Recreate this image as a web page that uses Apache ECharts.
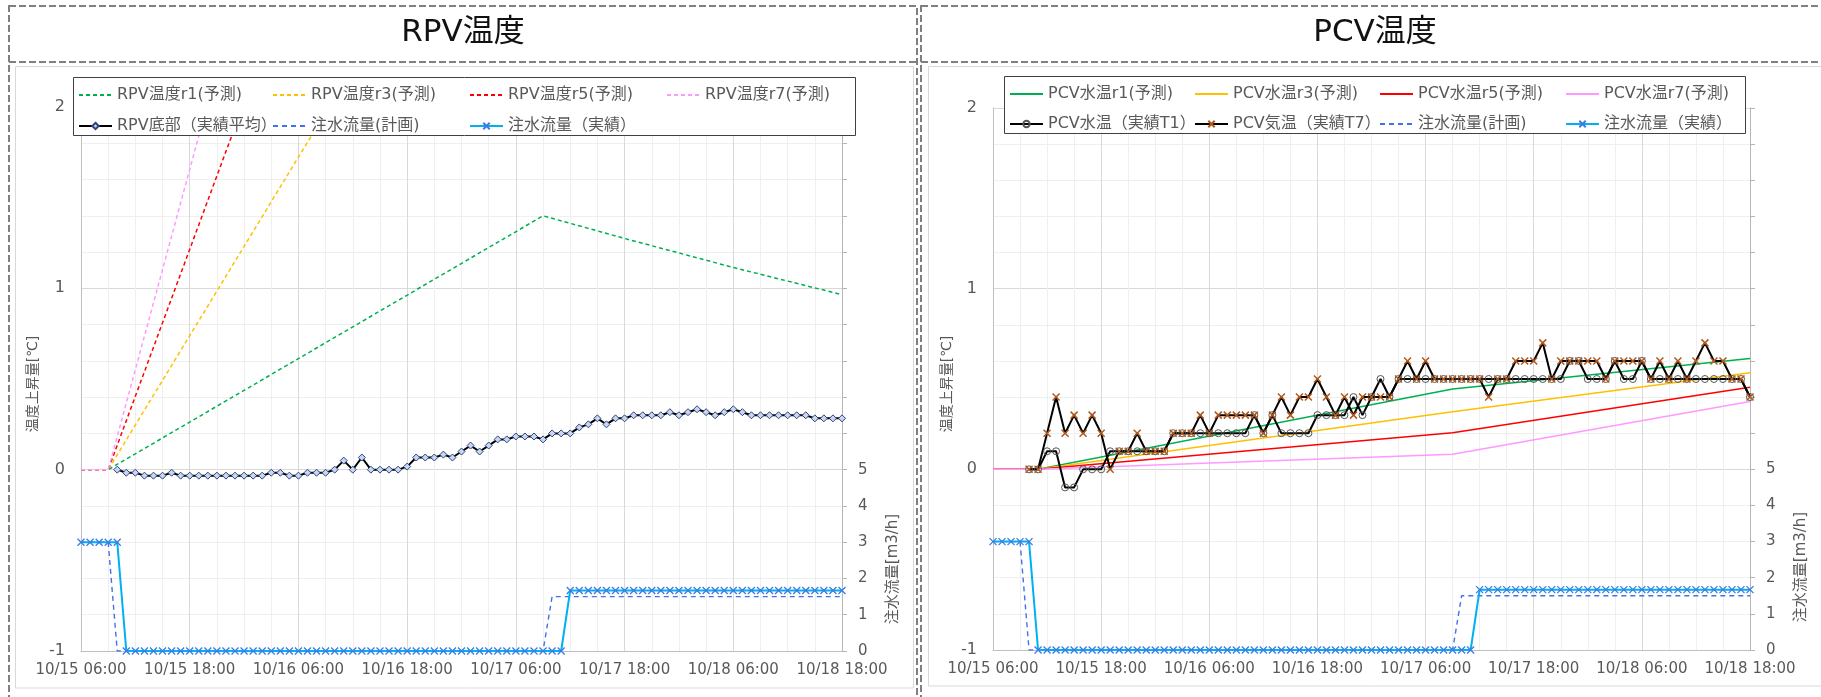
<!DOCTYPE html>
<html><head><meta charset="utf-8">
<script src="https://cdn.jsdelivr.net/npm/echarts@6/dist/echarts.min.js"></script>
<style>html,body{margin:0;padding:0;background:#fff;}#c{width:1821px;height:697px;}</style>
</head><body><div id="c"></div>
<script>
const FONT = '"DejaVu Sans","Noto Sans CJK JP",sans-serif';

// ---- axis tick labels ----
const xTickLabels = ['10/15 06:00','10/15 18:00','10/16 06:00','10/16 18:00','10/17 06:00','10/17 18:00','10/18 06:00','10/18 18:00'];
const hoursPerTick = 12;           // hours between x tick labels
const flowAxisLabels = ['0','1','2','3','4','5'];

// ---- hourly series (hour offset from 10/15 06:00) ----
const flowStartHour = 0;   // 10/15 06:00
const measStartHour = 4;   // 10/15 10:00

const flowPlan = [3,3,3,3,
  0,0,0,0,0,0,0,0,0,0,0,0,
  0,0,0,0,0,0,0,0,0,0,0,0,
  0,0,0,0,0,0,0,0,0,0,0,0,
  0,0,0,0,0,0,0,0,0,0,0,0,
  1.5,1.5,1.5,1.5,1.5,1.5,1.5,1.5,1.5,1.5,1.5,
  1.5,1.5,1.5,1.5,1.5,1.5,1.5,1.5,1.5,1.5,1.5,
  1.5,1.5,1.5,1.5,1.5,1.5,1.5,1.5,1.5,1.5,1.5];

const flowActual = [3,3,3,3,3,
  0,0,0,0,0,0,0,0,0,0,0,0,0,0,
  0,0,0,0,0,0,0,0,0,0,0,0,0,0,
  0,0,0,0,0,0,0,0,0,0,0,0,0,0,
  0,0,0,0,0,0,0,
  1.67,1.67,1.67,1.67,1.67,1.67,1.67,1.67,1.67,1.67,1.67,
  1.67,1.67,1.67,1.67,1.67,1.67,1.67,1.67,1.67,1.67,
  1.67,1.67,1.67,1.67,1.67,1.67,1.67,1.67,1.67,1.67];

const rpvBottom = [
  0,-0.017,-0.017,-0.033,-0.033,-0.033,-0.017,-0.033,-0.033,-0.033,
  -0.033,-0.033,-0.033,-0.033,-0.033,-0.033,-0.033,-0.017,-0.017,-0.033,
  -0.033,-0.017,-0.017,-0.017,0,0.05,0,0.067,0,0,
  0,0,0.017,0.067,0.067,0.067,0.083,0.067,0.1,0.133,
  0.1,0.133,0.167,0.167,0.183,0.183,0.183,0.167,0.2,0.2,
  0.2,0.233,0.25,0.283,0.25,0.283,0.283,0.3,0.3,0.3,
  0.3,0.317,0.3,0.317,0.333,0.317,0.3,0.317,0.333,0.317,
  0.3,0.3,0.3,0.3,0.3,0.3,0.3,0.283,0.283,0.283,
  0.283];

const pcvT1 = [
  0,0,0.1,0.1,-0.1,-0.1,0,0,0,0.1,
  0.1,0.1,0.1,0.1,0.1,0.1,0.2,0.2,0.2,0.2,
  0.2,0.2,0.2,0.2,0.2,0.3,0.2,0.3,0.2,0.2,
  0.2,0.2,0.3,0.3,0.3,0.3,0.4,0.3,0.4,0.5,
  0.4,0.5,0.5,0.5,0.5,0.5,0.5,0.5,0.5,0.5,
  0.5,0.5,0.5,0.5,0.5,0.5,0.5,0.5,0.5,0.5,
  0.6,0.6,0.5,0.5,0.5,0.6,0.5,0.5,0.6,0.5,
  0.5,0.5,0.5,0.5,0.5,0.5,0.5,0.5,0.5,0.5,
  0.4];

const pcvT7 = [
  0,0,0.2,0.4,0.2,0.3,0.2,0.3,0.2,0,
  0.1,0.1,0.2,0.1,0.1,0.1,0.2,0.2,0.2,0.3,
  0.2,0.3,0.3,0.3,0.3,0.3,0.2,0.3,0.4,0.3,
  0.4,0.4,0.5,0.4,0.3,0.4,0.3,0.4,0.4,0.4,
  0.4,0.5,0.6,0.5,0.6,0.5,0.5,0.5,0.5,0.5,
  0.5,0.4,0.5,0.5,0.6,0.6,0.6,0.7,0.5,0.6,
  0.6,0.6,0.6,0.6,0.5,0.6,0.6,0.6,0.6,0.5,
  0.6,0.5,0.6,0.5,0.6,0.7,0.6,0.6,0.5,0.5,
  0.4];

// ---- forecasts: [hour, value] ----
const rpvR1 = [[0,0],[3,0],[51,1.40],[60,1.275],[72,1.115],[84,0.965]];
const rpvR3 = [[0,0],[3,0],[51,3.94]];
const rpvR5 = [[0,0],[3,0],[51,6.48]];
const rpvR7 = [[0,0],[3,0],[51,8.83]];
const pcvR1 = [[0,0],[5,0],[51,0.445],[84,0.613]];
const pcvR3 = [[0,0],[5,0],[51,0.319],[84,0.535]];
const pcvR5 = [[0,0],[5,0],[51,0.203],[84,0.454]];
const pcvR7 = [[0,0],[5,0],[51,0.083],[84,0.375]];

// ---- names ----
const N = {
  rr1:'RPV温度r1(予測)', rr3:'RPV温度r3(予測)', rr5:'RPV温度r5(予測)', rr7:'RPV温度r7(予測)',
  rb:'RPV底部（実績平均）', fp:'注水流量(計画)', fa:'注水流量（実績）',
  pr1:'PCV水温r1(予測)', pr3:'PCV水温r3(予測)', pr5:'PCV水温r5(予測)', pr7:'PCV水温r7(予測)',
  t1:'PCV水温（実績T1）', t7:'PCV気温（実績T7）'
};
const noMarker = new Set([N.rr1,N.rr3,N.rr5,N.rr7,N.pr1,N.pr3,N.pr5,N.pr7,N.fp]);

const COL = {r1:'#00b050', r3:'#ffc000', r5:'#ff0000', r7:'#ff99ff', plan:'#4470ee', actual:'#00b0f0', xmark:'#3d7be4', t7mark:'#b0581c'};
const XPATH = 'path://M0,0L10,10M10,0L0,10';

function pairs(start, arr){ return arr.map((v,i)=>[start+i, v]); }

function fc(name, data, color, dashed, xi, yi){
  return {type:'line', name, data, xAxisIndex:xi, yAxisIndex:yi, symbol:'none', showSymbol:false,
    lineStyle:{color, width:1.5, type: dashed ? [4,3] : 'solid'}, itemStyle:{color},
    emphasis:{disabled:true}, silent:true, animation:false, z:2};
}
function flowSeries(xi, yi){
  return [
    {type:'line', name:N.fp, data:pairs(flowStartHour, flowPlan), xAxisIndex:xi, yAxisIndex:yi, symbol:'none', showSymbol:false,
     lineStyle:{color:COL.plan, width:1.4, type:[5,4]}, itemStyle:{color:COL.plan}, emphasis:{disabled:true}, silent:true, animation:false},
    {type:'line', name:N.fa, data:pairs(flowStartHour, flowActual), xAxisIndex:xi, yAxisIndex:yi, symbol:XPATH, symbolSize:7,
     lineStyle:{color:COL.actual, width:2}, itemStyle:{color:'rgba(0,0,0,0)', borderColor:COL.xmark, borderWidth:1.3},
     emphasis:{disabled:true}, silent:true, animation:false}
  ];
}

function mkX(gi){
  return {type:'value', gridIndex:gi, min:0, max:84, interval:hoursPerTick,
    axisLine:{show:true, onZero:false, lineStyle:{color:'#bfbfbf', width:1}},
    axisTick:{show:false},
    minorTick:{show:true, splitNumber:4, length:0, lineStyle:{color:'rgba(0,0,0,0)'}},
    minorSplitLine:{show:true, lineStyle:{color:'#efefef', width:1}},
    splitLine:{show:true, lineStyle:{color:'#d9d9d9', width:1}},
    axisLabel:{formatter: v => xTickLabels[Math.round(v/hoursPerTick)] || '', fontSize:15, color:'#595959', fontFamily:FONT, margin:12}};
}
function mkYL(gi){
  return {type:'value', gridIndex:gi, position:'left', min:-1, max:2, interval:1,
    axisLine:{show:true, onZero:false, lineStyle:{color:'#bfbfbf', width:1}},
    axisTick:{show:false},
    minorTick:{show:true, splitNumber:5, length:0, lineStyle:{color:'rgba(0,0,0,0)'}},
    minorSplitLine:{show:true, lineStyle:{color:'#efefef', width:1}},
    splitLine:{show:true, lineStyle:{color:'#d9d9d9', width:1}},
    axisLabel:{fontSize:16, color:'#595959', fontFamily:FONT, margin:16}};
}
function mkYR(gi){
  return {type:'value', gridIndex:gi, position:'right', min:0, max:15, interval:1,
    axisLine:{show:true, onZero:false, lineStyle:{color:'#b5b5b5', width:1}},
    axisTick:{show:true, length:5, lineStyle:{color:'#b5b5b5'}},
    splitLine:{show:false},
    axisLabel:{formatter: v => (v < flowAxisLabels.length ? flowAxisLabels[v] : ''), fontSize:15, color:'#595959', fontFamily:FONT, margin:16}};
}

function legendCol(x, y, names, gap){
  return {left:x, top:y, orient:'vertical', itemGap:gap, itemWidth:33, itemHeight:8, padding:0,
    selectedMode:false, z:5,
    data:names.map(n => noMarker.has(n) ? {name:n, itemStyle:{opacity:0}} : {name:n}),
    textStyle:{fontSize:16, color:'#595959', fontFamily:FONT, padding:[0,0,0,0]}};
}

const dashStyle = {stroke:'#808080', lineWidth:2, lineDash:[7,3], fill:'transparent'};

const option = {
  animation:false,
  backgroundColor:'#ffffff',
  textStyle:{fontFamily:FONT},
  grid:[
    {left:81, top:107, width:761, height:544},
    {left:993, top:108, width:757, height:542}
  ],
  xAxis:[mkX(0), mkX(1)],
  yAxis:[mkYL(0), mkYR(0), mkYL(1), mkYR(1)],
  legend:[
    legendCol(78, 87, [N.rr1, N.rb], 15),
    legendCol(272, 87, [N.rr3, N.fp], 15),
    legendCol(469, 87, [N.rr5, N.fa], 15),
    legendCol(666, 87, [N.rr7], 15),
    legendCol(1009, 86, [N.pr1, N.t1], 14),
    legendCol(1194, 86, [N.pr3, N.t7], 14),
    legendCol(1379, 86, [N.pr5, N.fp], 14),
    legendCol(1565, 86, [N.pr7, N.fa], 14)
  ],
  series:[
    fc(N.rr1, rpvR1, COL.r1, true, 0, 0),
    fc(N.rr3, rpvR3, COL.r3, true, 0, 0),
    fc(N.rr5, rpvR5, COL.r5, true, 0, 0),
    fc(N.rr7, rpvR7, COL.r7, true, 0, 0),
    {type:'line', name:N.rb, data:pairs(measStartHour, rpvBottom), xAxisIndex:0, yAxisIndex:0,
     symbol:'diamond', symbolSize:7, lineStyle:{color:'#000000', width:2},
     itemStyle:{color:'#c9d6ee', borderColor:'#2a4480', borderWidth:1}, emphasis:{disabled:true}, silent:true, animation:false},
    ...flowSeries(0, 1),
    fc(N.pr1, pcvR1, COL.r1, false, 1, 2),
    fc(N.pr3, pcvR3, COL.r3, false, 1, 2),
    fc(N.pr5, pcvR5, COL.r5, false, 1, 2),
    fc(N.pr7, pcvR7, COL.r7, false, 1, 2),
    {type:'line', name:N.t1, data:pairs(measStartHour, pcvT1), xAxisIndex:1, yAxisIndex:2,
     symbol:'circle', symbolSize:7, lineStyle:{color:'#000000', width:2},
     itemStyle:{color:'rgba(255,255,255,0)', borderColor:'#555555', borderWidth:1}, emphasis:{disabled:true}, silent:true, animation:false},
    {type:'line', name:N.t7, data:pairs(measStartHour, pcvT7), xAxisIndex:1, yAxisIndex:2,
     symbol:XPATH, symbolSize:7, lineStyle:{color:'#000000', width:2},
     itemStyle:{color:'rgba(0,0,0,0)', borderColor:COL.t7mark, borderWidth:1.5}, emphasis:{disabled:true}, silent:true, animation:false},
    ...flowSeries(1, 3)
  ],
  graphic:[
    {type:'rect', silent:true, z:0, shape:{x:9, y:6, width:908, height:720}, style:dashStyle},
    {type:'line', silent:true, z:0, shape:{x1:9, y1:62, x2:917, y2:62}, style:dashStyle},
    {type:'rect', silent:true, z:0, shape:{x:921, y:6, width:908, height:720}, style:dashStyle},
    {type:'line', silent:true, z:0, shape:{x1:921, y1:62, x2:1829, y2:62}, style:dashStyle},
    {type:'rect', silent:true, z:0, shape:{x:15.5, y:66.5, width:898, height:621.5}, style:{fill:'transparent', stroke:'#d9d9d9', lineWidth:1}},
    {type:'rect', silent:true, z:0, shape:{x:928.5, y:66.5, width:900, height:619.5}, style:{fill:'transparent', stroke:'#d9d9d9', lineWidth:1}},
    {type:'text', silent:true, z:1, x:463, y:33, style:{text:'RPV温度', fontSize:31, fontFamily:FONT, fill:'#111111', align:'center', verticalAlign:'middle'}},
    {type:'text', silent:true, z:1, x:1375, y:33, style:{text:'PCV温度', fontSize:31, fontFamily:FONT, fill:'#111111', align:'center', verticalAlign:'middle'}},
    {type:'rect', silent:true, z:3, shape:{x:73.5, y:77.5, width:782, height:58}, style:{fill:'#ffffff', stroke:'#404040', lineWidth:1}},
    {type:'rect', silent:true, z:3, shape:{x:1004.5, y:76.5, width:741, height:57}, style:{fill:'#ffffff', stroke:'#404040', lineWidth:1}},
    {type:'text', silent:true, z:1, x:33, y:384, rotation:Math.PI/2, style:{text:'温度上昇量[℃]', fontSize:14, fontFamily:FONT, fill:'#595959', align:'center', verticalAlign:'middle'}},
    {type:'text', silent:true, z:1, x:947, y:384, rotation:Math.PI/2, style:{text:'温度上昇量[℃]', fontSize:14, fontFamily:FONT, fill:'#595959', align:'center', verticalAlign:'middle'}},
    {type:'text', silent:true, z:1, x:893, y:569, rotation:Math.PI/2, style:{text:'注水流量[m3/h]', fontSize:15, fontFamily:FONT, fill:'#595959', align:'center', verticalAlign:'middle'}},
    {type:'text', silent:true, z:1, x:1801, y:567, rotation:Math.PI/2, style:{text:'注水流量[m3/h]', fontSize:15, fontFamily:FONT, fill:'#595959', align:'center', verticalAlign:'middle'}}
  ]
};

const chart = echarts.init(document.getElementById('c'), null, {renderer:'canvas', width:1821, height:697});
chart.setOption(option);
</script>
</body></html>
